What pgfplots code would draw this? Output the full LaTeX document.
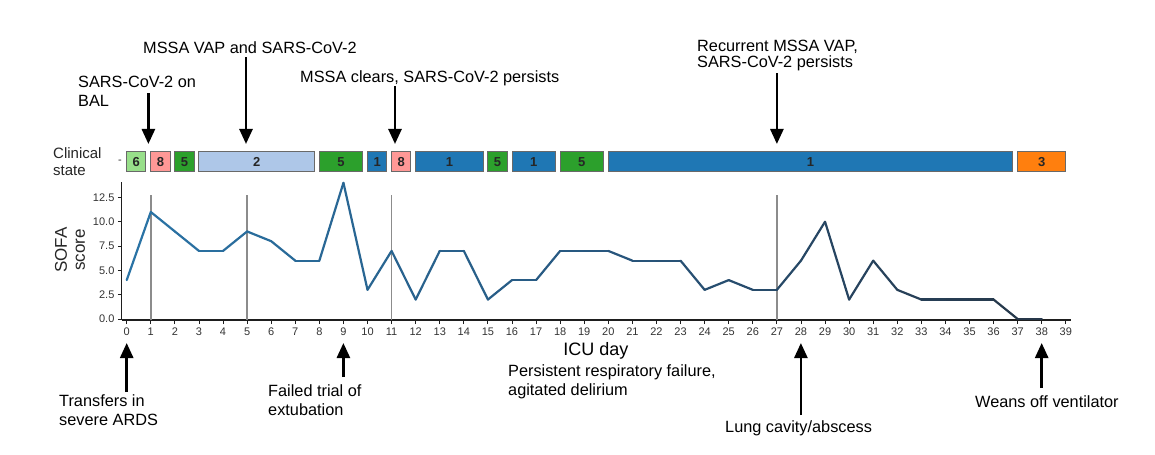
\documentclass[border=0pt]{standalone}
\usepackage{fontspec}
\setmainfont{Liberation Sans}
\usepackage{pgfplots}
\pgfplotsset{compat=1.18}
\usetikzlibrary{arrows.meta}
\definecolor{lgreen}{RGB}{152,223,138}
\definecolor{pinkc}{RGB}{255,152,150}
\definecolor{dgreen}{RGB}{44,160,44}
\definecolor{lblue}{RGB}{174,199,232}
\definecolor{bluec}{RGB}{31,119,180}
\definecolor{orangec}{RGB}{255,127,14}
\definecolor{bordc}{RGB}{105,105,105}
\definecolor{axc}{RGB}{30,30,30}
\definecolor{vlinec}{RGB}{140,140,140}
\newcommand\af{\fontsize{16.3bp}{19bp}\selectfont}
\begin{document}
\begin{tikzpicture}
\useasboundingbox (0,0) rectangle (1155bp,-455bp);
% ---------------- SOFA axis ----------------
\begin{axis}[
  at={(121.9bp,-320bp)}, anchor=south west,
  x=24.08bp, y=9.73bp,
  xmin=-0.2, xmax=39.2, ymin=-0.1, ymax=14.1,
  axis lines*=left,
  axis line style={line width=1.1bp, axc},
  tick style={line width=0.9bp, axc},
  major tick length=4bp,
  tick align=outside,
  xtick={0,...,39},
  ytick={0,2.5,5,7.5,10,12.5},
  /pgf/number format/assume math mode=true,
  yticklabel style={/pgf/number format/.cd, fixed, fixed zerofill, precision=1},
  tick label style={font=\fontsize{11bp}{13bp}\selectfont, text=black!80},
  clip=false,
]
\addplot[color=vlinec, line width=1.8bp] coordinates {(1,-0.1) (1,12.75)};
\addplot[color=vlinec, line width=1.8bp] coordinates {(5,-0.1) (5,12.75)};
\addplot[color=vlinec, line width=1.8bp] coordinates {(11,-0.1) (11,12.75)};
\addplot[color=vlinec, line width=1.8bp] coordinates {(27,-0.1) (27,12.75)};
\addplot[mesh, point meta=x, line width=2.2bp, line cap=round, line join=round,
  colormap={sofa}{rgb255=(42,116,166) rgb255=(40,88,128) rgb255=(38,54,72)}]
  table[row sep=\\] {
  x y\\
  0 4\\ 1 11\\ 2 9\\ 3 7\\ 4 7\\ 5 9\\ 6 8\\ 7 6\\ 8 6\\ 9 14\\
  10 3\\ 11 7\\ 12 2\\ 13 7\\ 14 7\\ 15 2\\ 16 4\\ 17 4\\ 18 7\\ 19 7\\
  20 7\\ 21 6\\ 22 6\\ 23 6\\ 24 3\\ 25 4\\ 26 3\\ 27 3\\ 28 6\\ 29 10\\
  30 2\\ 31 6\\ 32 3\\ 33 2\\ 34 2\\ 35 2\\ 36 2\\ 37 0\\ 38 0\\
  };
\end{axis}
% ---------------- Clinical state axis ----------------
\begin{axis}[
  at={(121.9bp,-171.7bp)}, anchor=south west,
  x=24.08bp, y=20bp,
  xmin=-0.2, xmax=39.2, ymin=0, ymax=1,
  hide axis, clip=false,
]
\pgfplotsset{every axis plot/.append style={draw=bordc, line width=1bp}}
\addplot[fill=lgreen]  coordinates {(0,0) (0.8,0) (0.8,1) (0,1) (0,0)};
\addplot[fill=pinkc]   coordinates {(1,0) (1.8,0) (1.8,1) (1,1) (1,0)};
\addplot[fill=dgreen]  coordinates {(2,0) (2.8,0) (2.8,1) (2,1) (2,0)};
\addplot[fill=lblue]   coordinates {(3,0) (7.8,0) (7.8,1) (3,1) (3,0)};
\addplot[fill=dgreen]  coordinates {(8,0) (9.8,0) (9.8,1) (8,1) (8,0)};
\addplot[fill=bluec]   coordinates {(10,0) (10.8,0) (10.8,1) (10,1) (10,0)};
\addplot[fill=pinkc]   coordinates {(11,0) (11.8,0) (11.8,1) (11,1) (11,0)};
\addplot[fill=bluec]   coordinates {(12,0) (14.8,0) (14.8,1) (12,1) (12,0)};
\addplot[fill=dgreen]  coordinates {(15,0) (15.8,0) (15.8,1) (15,1) (15,0)};
\addplot[fill=bluec]   coordinates {(16,0) (17.8,0) (17.8,1) (16,1) (16,0)};
\addplot[fill=dgreen]  coordinates {(18,0) (19.8,0) (19.8,1) (18,1) (18,0)};
\addplot[fill=bluec]   coordinates {(20,0) (36.8,0) (36.8,1) (20,1) (20,0)};
\addplot[fill=orangec] coordinates {(37,0) (39,0) (39,1) (37,1) (37,0)};
\begin{scope}[every node/.style={font=\fontsize{13bp}{15bp}\selectfont\bfseries, text=black!85}]
\node at (axis cs:0.4,0.5) {6};
\node at (axis cs:1.4,0.5) {8};
\node at (axis cs:2.4,0.5) {5};
\node at (axis cs:5.4,0.5) {2};
\node at (axis cs:8.9,0.5) {5};
\node at (axis cs:10.4,0.5) {1};
\node at (axis cs:11.4,0.5) {8};
\node at (axis cs:13.4,0.5) {1};
\node at (axis cs:15.4,0.5) {5};
\node at (axis cs:16.9,0.5) {1};
\node at (axis cs:18.9,0.5) {5};
\node at (axis cs:28.4,0.5) {1};
\node at (axis cs:38,0.5) {3};
\end{scope}
\end{axis}
% ---------------- annotations (pixel coordinates) ----------------
\begin{scope}[x=1bp, y=-1bp]
\node[anchor=west, align=left, inner sep=0pt, font=\fontsize{15bp}{17bp}\selectfont, text=black!85] at (53,161.5) {Clinical\\state};
\node[font=\fontsize{11bp}{13bp}\selectfont, text=black!80] at (120,161.5) {-};
\node[rotate=90, align=center, inner sep=0pt, font=\fontsize{17bp}{18bp}\selectfont, text=black!85] at (70,250) {SOFA\\score};
\node[inner sep=0pt, font=\fontsize{18bp}{20bp}\selectfont] at (596,351) {ICU day};
% top annotations
\begin{scope}[every node/.style={anchor=west, align=left, inner sep=0pt, font=\af}]
\node at (78,91.5) {SARS-CoV-2 on\\BAL};
\node at (143,48) {MSSA VAP and SARS-CoV-2};
\node at (300,78) {MSSA clears, SARS-CoV-2 persists};
\node[font=\fontsize{16.3bp}{16bp}\selectfont] at (697,55.5) {Recurrent MSSA VAP,\\SARS-CoV-2 persists};
\node at (59,410.5) {Transfers in\\severe ARDS};
\node at (268,400.5) {Failed trial of\\extubation};
\node at (508,381.5) {Persistent respiratory failure,\\agitated delirium};
\node at (725,428) {Lung cavity/abscess};
\node at (975,402) {Weans off ventilator};
\end{scope}
\begin{scope}[line width=2.6bp, -{Triangle[width=13bp,length=15bp]}]
\draw (148.4,93) -- (148.4,144);
\draw (246,57) -- (246,144);
\draw (395,86) -- (395,144);
\draw (776.9,73) -- (776.9,144);
\draw (126.7,392) -- (126.7,343);
\draw (343.4,377) -- (343.4,343);
\draw (800.9,415) -- (800.9,343);
\draw (1041.7,388) -- (1041.7,343);
\end{scope}
\end{scope}
\end{tikzpicture}
\end{document}
